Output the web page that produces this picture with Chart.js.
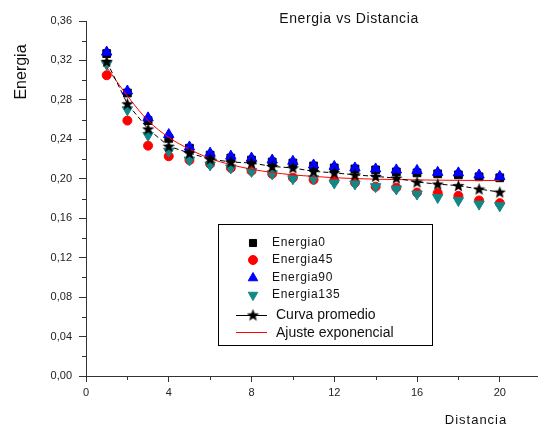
<!DOCTYPE html>
<html>
<head>
<meta charset="utf-8">
<script src="https://cdn.jsdelivr.net/npm/chart.js@4.4.1/dist/chart.umd.min.js"></script>
<style>
  html, body { margin: 0; padding: 0; background: #fff; }
  #wrap { width: 544px; height: 426px; }
</style>
</head>
<body>
<div id="wrap"><canvas id="chart" width="544" height="426"></canvas></div>
<script>
// valores
const distancia = [1, 2, 3, 4, 5, 6, 7, 8, 9, 10, 11, 12, 13, 14, 15, 16, 17, 18, 19, 20];
const energia0 = [0.327, 0.287, 0.259, 0.241, 0.231, 0.224, 0.221, 0.219, 0.217, 0.216, 0.213, 0.211, 0.210, 0.209, 0.207, 0.206, 0.205, 0.204, 0.202, 0.201];
const energia45 = [0.305, 0.259, 0.2336, 0.2228, 0.219, 0.215, 0.211, 0.208, 0.205, 0.201, 0.199, 0.198, 0.196, 0.192, 0.191, 0.186, 0.1855, 0.1827, 0.178, 0.1753];
const energia90 = [0.3285, 0.289, 0.2618, 0.2448, 0.2323, 0.226, 0.223, 0.221, 0.219, 0.2177, 0.214, 0.2125, 0.211, 0.210, 0.209, 0.2085, 0.2065, 0.206, 0.2038, 0.2024];
const energia135 = [0.316, 0.270, 0.244, 0.228, 0.219, 0.214, 0.211, 0.2075, 0.205, 0.200, 0.200, 0.1957, 0.1947, 0.192, 0.1896, 0.1845, 0.181, 0.178, 0.1743, 0.1726];
const promedio = [0.319, 0.276, 0.2505, 0.233, 0.226, 0.220, 0.217, 0.216, 0.2125, 0.211, 0.2075, 0.206, 0.204, 0.2024, 0.2007, 0.1967, 0.1946, 0.193, 0.1896, 0.1865];
const ajuste = [0.313, 0.284, 0.259, 0.242, 0.230, 0.2205, 0.2143, 0.2097, 0.2064, 0.204, 0.2024, 0.2011, 0.2002, 0.1996, 0.1992, 0.1989, 0.1986, 0.1984, 0.1983, 0.1982];

const xTicksMinor = [2, 6, 10, 14, 18];
const yTicksMinor = [0.02, 0.06, 0.10, 0.14, 0.18, 0.22, 0.26, 0.30, 0.34];

const TEAL = '#118888';

function pts(arr){
    return distancia.map((d, i) => ({x: d, y: arr[i]}));
}

// estrella rellena para la curva promedio
function makeStar(size){
    const c = document.createElement('canvas');
    c.width = size; c.height = size;
    const g = c.getContext('2d');
    const cx = size / 2, cy = size / 2 + 0.5;
    const R = size / 2, r = R * 0.42;
    g.beginPath();
    for(let i = 0; i < 10; i++){
        const rad = i % 2 === 0 ? R : r;
        const a = -Math.PI / 2 + i * Math.PI / 5;
        const px = cx + rad * Math.cos(a), py = cy + rad * Math.sin(a);
        if(i === 0) g.moveTo(px, py); else g.lineTo(px, py);
    }
    g.closePath();
    g.fillStyle = '#000';
    g.fill();
    return c;
}
const star = makeStar(13);

const extras = {
    id: 'extras',
    afterDraw(chart){
        const ctx = chart.ctx;
        const xs = chart.scales.x, ys = chart.scales.y;
        const area = chart.chartArea;
        ctx.save();

        // ticks menores
        ctx.strokeStyle = '#333';
        ctx.lineWidth = 1;
        ctx.beginPath();
        xTicksMinor.forEach(v => {
            const px = Math.round(xs.getPixelForValue(v)) + 0.5;
            ctx.moveTo(px, area.bottom);
            ctx.lineTo(px, area.bottom + 4);
        });
        yTicksMinor.forEach(v => {
            const py = Math.round(ys.getPixelForValue(v)) + 0.5;
            ctx.moveTo(area.left - 4, py);
            ctx.lineTo(area.left, py);
        });
        ctx.stroke();

        // titulos
        ctx.fillStyle = '#111';
        ctx.textBaseline = 'middle';
        ctx.textAlign = 'center';
        ctx.letterSpacing = '0.6px';
        ctx.font = '14px "Liberation Sans", Arial, sans-serif';
        ctx.fillText('Energia vs Distancia', 349, 19);
        ctx.font = '13px "Liberation Sans", Arial, sans-serif';
        ctx.letterSpacing = '1px';
        ctx.fillText('Distancia', 476, 420);
        ctx.letterSpacing = '0px';
        ctx.save();
        ctx.translate(22, 72);
        ctx.rotate(-Math.PI / 2);
        ctx.font = '16px "Liberation Sans", Arial, sans-serif';
        ctx.fillText('Energia', 0, 0);
        ctx.restore();

        // leyenda
        ctx.strokeStyle = '#000';
        ctx.lineWidth = 1;
        ctx.strokeRect(218.5, 224.5, 214, 121);
        const items = [
            {label: 'Energia0', style: 'rect', r: 5, color: '#000', rot: 0, y: 243},
            {label: 'Energia45', style: 'circle', r: 4.5, color: '#ff0000', rot: 0, y: 260},
            {label: 'Energia90', style: 'triangle', r: 5.5, color: '#0000ff', rot: 0, y: 278},
            {label: 'Energia135', style: 'triangle', r: 5.5, color: TEAL, rot: 180, y: 295}
        ];
        ctx.textAlign = 'left';
        ctx.font = '12px "Liberation Sans", Arial, sans-serif';
        ctx.letterSpacing = '0.7px';
        items.forEach(it => {
            ctx.fillStyle = it.color;
            ctx.strokeStyle = it.color;
            Chart.helpers.drawPoint(ctx, {pointStyle: it.style, radius: it.r, rotation: it.rot, borderWidth: 1}, 253, it.y);
            ctx.fillStyle = '#111';
            ctx.fillText(it.label, 272, it.y);
        });
        ctx.letterSpacing = '0px';
        ctx.font = '14px "Liberation Sans", Arial, sans-serif';
        ctx.strokeStyle = '#000';
        ctx.setLineDash([]);
        ctx.beginPath();
        ctx.moveTo(236, 315.5);
        ctx.lineTo(267, 315.5);
        ctx.stroke();
        ctx.drawImage(star, 253 - 6.5, 315 - 6.5);
        ctx.fillStyle = '#111';
        ctx.fillText('Curva promedio', 276, 315);
        ctx.strokeStyle = '#ff0000';
        ctx.beginPath();
        ctx.moveTo(236, 332.5);
        ctx.lineTo(267, 332.5);
        ctx.stroke();
        ctx.fillStyle = '#111';
        ctx.fillText('Ajuste exponencial', 276, 333);

        ctx.restore();
    }
};

const tickFont = {family: '"Liberation Sans", Arial, sans-serif', size: 11};

new Chart(document.getElementById('chart'), {
    type: 'scatter',
    data: {
        datasets: [
            {label: 'Energia0', data: pts(energia0), pointStyle: 'rect', pointRadius: 5.5, backgroundColor: '#000', borderColor: '#000', borderWidth: 1, showLine: false, order: 6},
            {label: 'Energia45', data: pts(energia45), pointStyle: 'circle', pointRadius: 4.5, backgroundColor: '#ff0000', borderColor: '#ff0000', borderWidth: 1, showLine: false, order: 5},
            {label: 'Energia90', data: pts(energia90), pointStyle: 'triangle', pointRadius: 6, backgroundColor: '#0000ff', borderColor: '#0000ff', borderWidth: 1, showLine: false, order: 4},
            {label: 'Energia135', data: pts(energia135), pointStyle: 'triangle', rotation: 180, pointRadius: 6, backgroundColor: TEAL, borderColor: TEAL, borderWidth: 1, showLine: false, order: 3},
            {label: 'Ajuste exponencial', data: pts(ajuste), showLine: true, pointRadius: 0, borderColor: '#ff0000', borderWidth: 1, cubicInterpolationMode: 'monotone', order: 2},
            {label: 'Curva promedio', data: pts(promedio), showLine: true, pointStyle: star, pointRadius: 6, borderColor: '#000', backgroundColor: '#000', borderWidth: 1, borderDash: [5, 3], order: 1}
        ]
    },
    options: {
        responsive: false,
        animation: false,
        devicePixelRatio: 1,
        layout: {padding: {top: 21, right: 4, left: 0, bottom: 0}},
        plugins: {legend: {display: false}, tooltip: {enabled: false}, title: {display: false}},
        scales: {
            x: {
                type: 'linear', min: 0, max: 21.8,
                afterFit: s => { s.height = 50; },
                border: {color: '#333', width: 1},
                grid: {drawOnChartArea: false, tickLength: 6, color: '#333'},
                ticks: {stepSize: 4, includeBounds: false, padding: 4, color: '#222', font: tickFont, maxRotation: 0}
            },
            y: {
                type: 'linear', min: 0, max: 0.36,
                afterFit: s => { s.width = 86; },
                border: {color: '#333', width: 1},
                grid: {drawOnChartArea: false, tickLength: 7, color: '#333'},
                ticks: {stepSize: 0.04, padding: 7, color: '#222', font: tickFont,
                    callback: v => v.toFixed(2).replace('.', ',')}
            }
        }
    },
    plugins: [extras]
});
</script>
</body>
</html>
